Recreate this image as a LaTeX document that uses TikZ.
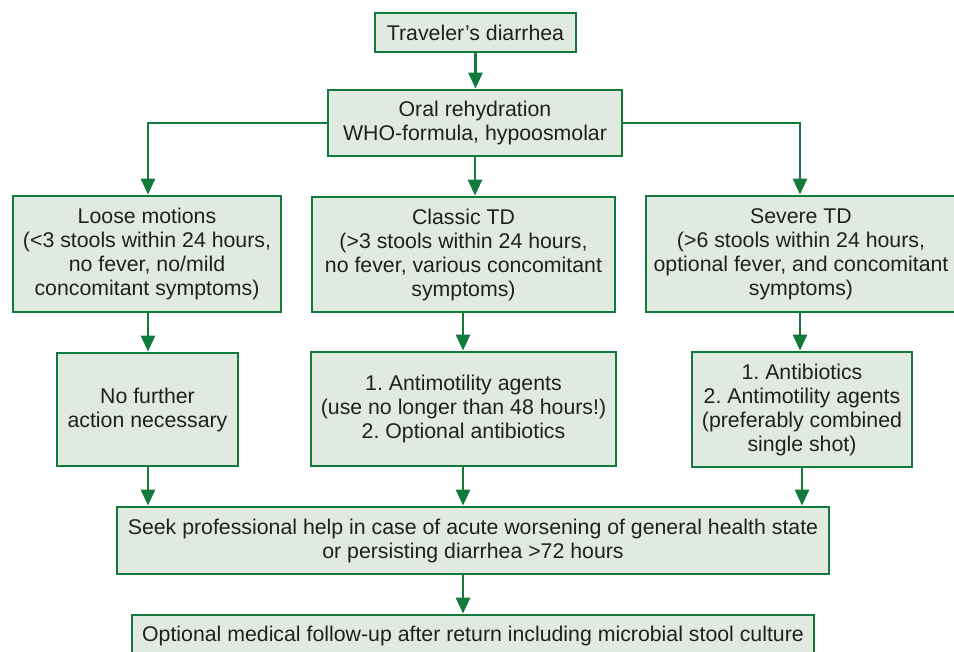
\documentclass[tikz,border=0pt]{standalone}
\usepackage{fontspec}
\setmainfont{Liberation Sans}
\usetikzlibrary{arrows.meta}
\frenchspacing
\definecolor{boxline}{RGB}{18,122,58}
\definecolor{boxfill}{RGB}{224,234,225}
\definecolor{txt}{RGB}{35,31,32}
\tikzset{
  x=1pt, y=-1pt,
  box/.style={draw=boxline, fill=boxfill, line width=2.8pt, inner sep=0pt,
    align=center, text=txt, font=\fontsize{21.3}{24}\selectfont\frenchspacing, anchor=center},
  conn/.style={draw=boxline, line width=2.8pt},
  arr/.style={conn, -{Triangle[width=14pt,length=16pt]}}
}
\begin{document}
\begin{tikzpicture}
\useasboundingbox (0,0) rectangle (954,652);
\node[box, minimum width=201pt, minimum height=39pt] (A) at (475.5,32.5) {Traveler’s diarrhea};
\node[box, minimum width=294pt, minimum height=66pt] (B) at (475,123) {Oral rehydration\\WHO-formula, hypoosmolar};
\node[box, minimum width=268pt, minimum height=116pt] (C1) at (147,254) {Loose motions\\(<3 stools within 24 hours,\\no fever, no/mild\\concomitant symptoms)};
\node[box, minimum width=303pt, minimum height=115pt] (C2) at (463.5,254.5) {Classic TD\\(>3 stools within 24 hours,\\no fever, various concomitant\\symptoms)};
\node[box, minimum width=310pt, minimum height=116pt] (C3) at (801,254) {Severe TD\\(>6 stools within 24 hours,\\optional fever, and concomitant\\symptoms)};
\node[box, minimum width=181pt, minimum height=113pt] (D1) at (147.5,409.5) {No further\\action necessary};
\node[box, minimum width=305pt, minimum height=114pt] (D2) at (463.5,409) {1. Antimotility agents\\(use no longer than 48 hours!)\\2. Optional antibiotics};
\node[box, minimum width=220pt, minimum height=115pt] (D3) at (802,409.5) {1. Antibiotics\\2. Antimotility agents\\(preferably combined\\single shot)};
\node[box, minimum width=712pt, minimum height=67pt] (E) at (473,540.5) {Seek professional help in case of acute worsening of general health state\\or persisting diarrhea >72 hours};
\node[box, minimum width=682pt, minimum height=42pt] (F) at (473,636) {Optional medical follow-up after return including microbial stool culture};

\coordinate (cl) at (148,123);
\coordinate (cr) at (800,123);
\draw[arr] (A.south) -- (A.south |- B.north);
\draw[arr] (B.west) -- (cl) -- (cl |- C1.north);
\draw[arr] (B.east) -- (cr) -- (cr |- C3.north);
\draw[arr] (B.south) -- (B.south |- C2.north);

\coordinate (x1) at (148,0);
\coordinate (x2) at (463,0);
\coordinate (x3) at (800,0);
\coordinate (x3b) at (802,0);
\draw[arr] (x1 |- C1.south) -- (x1 |- D1.north);
\draw[arr] (x2 |- C2.south) -- (x2 |- D2.north);
\draw[arr] (x3 |- C3.south) -- (x3 |- D3.north);
\draw[arr] (x1 |- D1.south) -- (x1 |- E.north);
\draw[arr] (x2 |- D2.south) -- (x2 |- E.north);
\draw[arr] (x3b |- D3.south) -- (x3b |- E.north);
\draw[arr] (x2 |- E.south) -- (x2 |- F.north);
\end{tikzpicture}
\end{document}
